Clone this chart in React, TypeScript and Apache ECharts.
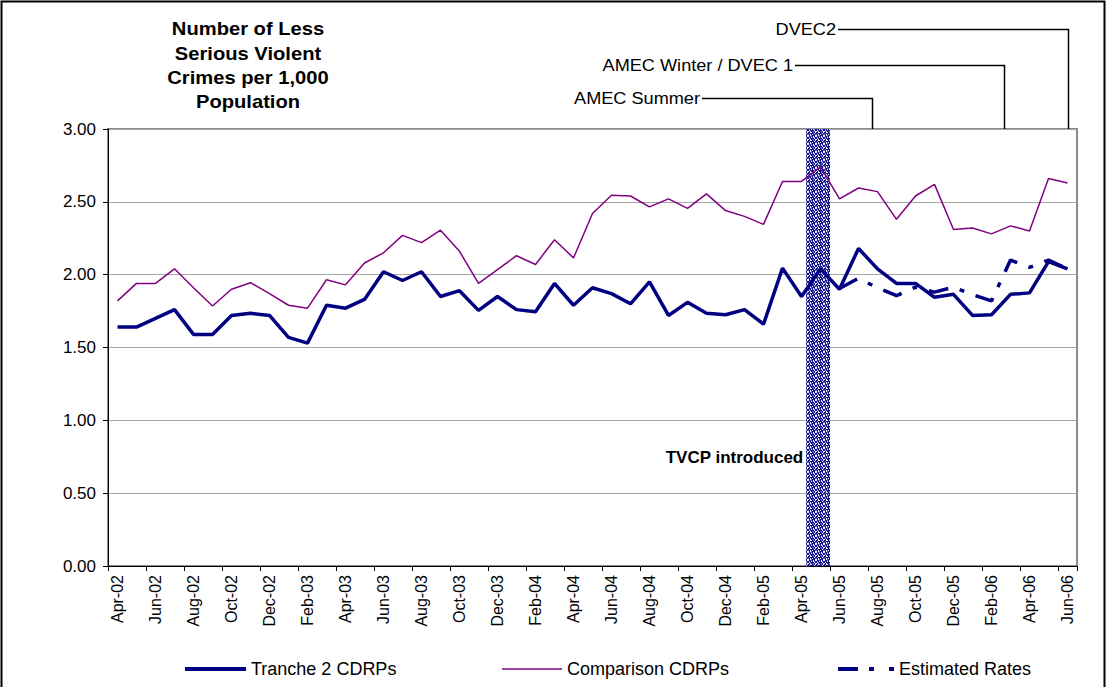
import React, { useEffect, useRef } from "react";
import * as echarts from "echarts";

const months = [
  "Apr-02","May-02","Jun-02","Jul-02","Aug-02","Sep-02","Oct-02","Nov-02","Dec-02",
  "Jan-03","Feb-03","Mar-03","Apr-03","May-03","Jun-03","Jul-03","Aug-03","Sep-03","Oct-03","Nov-03","Dec-03",
  "Jan-04","Feb-04","Mar-04","Apr-04","May-04","Jun-04","Jul-04","Aug-04","Sep-04","Oct-04","Nov-04","Dec-04",
  "Jan-05","Feb-05","Mar-05","Apr-05","May-05","Jun-05","Jul-05","Aug-05","Sep-05","Oct-05","Nov-05","Dec-05",
  "Jan-06","Feb-06","Mar-06","Apr-06","May-06","Jun-06",
];

const tranche2 = [
  1.64, 1.64, 1.70, 1.76, 1.59, 1.59, 1.72, 1.735, 1.72,
  1.57, 1.53, 1.79, 1.77, 1.83, 2.02, 1.96, 2.02, 1.85, 1.89, 1.755, 1.85,
  1.76, 1.745, 1.94, 1.79, 1.91, 1.87, 1.80, 1.95, 1.72, 1.81, 1.735, 1.725,
  1.76, 1.66, 2.045, 1.85, 2.04, 1.90, 2.18, 2.04, 1.94, 1.94, 1.845, 1.865,
  1.72, 1.725, 1.865, 1.875, 2.09, 2.04,
];

const comparison = [
  1.82, 1.94, 1.94, 2.04, 1.91, 1.785, 1.90, 1.945, 1.87,
  1.79, 1.77, 1.965, 1.93, 2.08, 2.15, 2.27, 2.22, 2.305, 2.16, 1.94, 2.035,
  2.13, 2.07, 2.24, 2.115, 2.42, 2.545, 2.54, 2.465, 2.52, 2.455, 2.555, 2.44,
  2.40, 2.345, 2.64, 2.64, 2.74, 2.52, 2.595, 2.57, 2.38, 2.54, 2.62, 2.31,
  2.32, 2.28, 2.335, 2.30, 2.66, 2.63,
];

const estimated = [
  null, null, null, null, null, null, null, null, null,
  null, null, null, null, null, null, null, null, null, null, null, null,
  null, null, null, null, null, null, null, null, null, null, null, null,
  null, null, null, null, null, 1.905, 1.975, 1.91, 1.856, 1.914, 1.88, 1.914,
  1.863, 1.82, 2.10, 2.05, 2.10, 2.04,
];

const yTicks = [0, 0.5, 1, 1.5, 2, 2.5, 3];
const bandMonth = "May-05";
const bandLabel = "TVCP introduced";
const titleLines = ["Number of Less", "Serious Violent", "Crimes per 1,000", "Population"];
const annotationLabels = ["DVEC2", "AMEC Winter / DVEC 1", "AMEC Summer"];
const annotationMonths = ["Jun-06", "Feb-06", "Aug-05"];
const annotationShift = [0, 0.65, -0.28];

const FONT = "'Liberation Sans', Arial, sans-serif";
const NAVY = "#000080";
const PURPLE = "#800080";

function makeSpeckle() {
  const c = document.createElement("canvas");
  c.width = 8;
  c.height = 8;
  const ctx = c.getContext("2d");
  if (!ctx) return null;
  ctx.fillStyle = "#14148a";
  ctx.fillRect(0, 0, 8, 8);
  for (let y = 0; y < 8; y++) {
    for (let x = 0; x < 8; x++) {
      const k = (x * 3 + y * 5 + ((x * y) % 3)) % 7;
      if (k < 2) {
        ctx.fillStyle = "#e8e8ff";
        ctx.fillRect(x, y, 1, 1);
      } else if (k === 2) {
        ctx.fillStyle = "#7070c8";
        ctx.fillRect(x, y, 1, 1);
      }
    }
  }
  return c;
}

const legendText = { fontSize: 18, color: "#000", fontFamily: FONT };

export default function App() {
  const ref = useRef<HTMLDivElement | null>(null);

  useEffect(() => {
    if (!ref.current) return;
    const chart = echarts.init(ref.current, null, { renderer: "svg" });
    const speckle = makeSpeckle();

    const option: any = {
      animation: false,
      backgroundColor: "#ffffff",
      textStyle: { fontFamily: FONT },
      grid: {
        left: 108,
        right: 30,
        top: 129,
        bottom: 121,
        show: true,
        borderColor: "#8c8c8c",
        borderWidth: 2,
        containLabel: false,
      },
      legend: [
        {
          data: [{ name: "Tranche 2 CDRPs", icon: "rect" }],
          left: 180,
          top: 655,
          itemWidth: 61,
          itemHeight: 4,
          selectedMode: false,
          itemStyle: { color: NAVY, borderWidth: 0 },
          textStyle: legendText,
        },
        {
          data: [{ name: "Comparison CDRPs", icon: "rect" }],
          left: 497,
          top: 655,
          itemWidth: 60,
          itemHeight: 2,
          selectedMode: false,
          itemStyle: { color: "#a040a8", borderWidth: 0 },
          textStyle: legendText,
        },
        {
          data: [
            {
              name: "Estimated Rates",
              icon: "path://M0,0H20V4H0Z M31,0H36V4H31Z M51,0H56V4H51Z",
            },
          ],
          left: 833,
          top: 655,
          itemWidth: 56,
          itemHeight: 4,
          selectedMode: false,
          itemStyle: { color: NAVY, borderWidth: 0 },
          textStyle: legendText,
        },
      ],
      xAxis: {
        type: "category",
        data: months,
        boundaryGap: true,
        axisLine: { show: true, lineStyle: { color: "#000", width: 1 } },
        axisTick: { show: true, interval: 1, length: 5, lineStyle: { color: "#000" } },
        axisLabel: {
          interval: 1,
          rotate: 90,
          fontSize: 16,
          color: "#000",
          margin: 9,
          fontFamily: FONT,
        },
        splitLine: { show: false },
      },
      yAxis: {
        type: "value",
        min: yTicks[0],
        max: yTicks[yTicks.length - 1],
        interval: yTicks[1] - yTicks[0],
        axisLine: { show: true, lineStyle: { color: "#000", width: 1 } },
        axisTick: { show: true, length: 5, lineStyle: { color: "#000" } },
        axisLabel: {
          fontSize: 17,
          color: "#000",
          margin: 12,
          fontFamily: FONT,
          formatter: (v: number) => v.toFixed(2),
        },
        splitLine: { show: true, lineStyle: { color: "#a6a6a6", width: 1 } },
      },
      series: [
        {
          type: "custom",
          name: "band",
          silent: true,
          z: 1,
          data: [[bandMonth, yTicks[0], yTicks[yTicks.length - 1]]],
          encode: { x: 0, y: [1, 2] },
          renderItem: (params: any, api: any) => {
            const bottom = api.coord([api.value(0), api.value(1)]);
            const top = api.coord([api.value(0), api.value(2)]);
            const w = api.size([1, 0])[0];
            const x0 = bottom[0] - 0.75 * w;
            const width = 1.25 * w;
            const children: any[] = [
              {
                type: "rect",
                shape: { x: x0, y: top[1], width, height: bottom[1] - top[1] },
                style: { fill: "#4848a8" },
              },
            ];
            if (speckle) {
              children.push({
                type: "rect",
                shape: { x: x0, y: top[1], width, height: bottom[1] - top[1] },
                style: {
                  fill: { image: speckle, repeat: "repeat", imageWidth: 8, imageHeight: 8 },
                },
              });
            }
            return { type: "group", children };
          },
        },
        {
          type: "line",
          name: "Tranche 2 CDRPs",
          data: tranche2,
          symbol: "none",
          showSymbol: false,
          z: 4,
          lineStyle: { color: NAVY, width: 3.5 },
          itemStyle: { color: NAVY },
        },
        {
          type: "line",
          name: "Comparison CDRPs",
          data: comparison,
          symbol: "none",
          showSymbol: false,
          z: 3,
          lineStyle: { color: PURPLE, width: 1.5 },
          itemStyle: { color: PURPLE },
        },
        {
          type: "line",
          name: "Estimated Rates",
          data: estimated,
          symbol: "none",
          showSymbol: false,
          connectNulls: false,
          z: 5,
          lineStyle: { color: NAVY, width: 3.5, type: [20, 12, 5, 12], cap: "butt" },
          itemStyle: { color: NAVY },
        },
      ],
    };

    chart.setOption(option);

    const gridTop = 129;
    const levelsY = [29, 65, 98];
    const lineStartX = [838, 795, 702];
    const graphics: any[] = [];

    graphics.push({
      type: "rect",
      silent: true,
      shape: { x: 1.5, y: 1.5, width: 1103, height: 700 },
      style: { fill: null, stroke: "#000", lineWidth: 2 },
      z: 100,
    });

    graphics.push({
      type: "text",
      x: 248,
      y: 17,
      scaleX: 1.12,
      silent: true,
      style: {
        text: titleLines.join("\n"),
        fontFamily: FONT,
        fontSize: 18,
        fontWeight: "bold",
        fill: "#000",
        align: "center",
        verticalAlign: "top",
        lineHeight: 24.3,
      },
      z: 100,
    });

    const bandIdx = months.indexOf(bandMonth);
    const bandPx = chart.convertToPixel({ xAxisIndex: 0 }, months[bandIdx]) as number;
    const step =
      (chart.convertToPixel({ xAxisIndex: 0 }, months[1]) as number) -
      (chart.convertToPixel({ xAxisIndex: 0 }, months[0]) as number);
    const yMid = chart.convertToPixel({ yAxisIndex: 0 }, 0.75) as number;

    graphics.push({
      type: "text",
      x: bandPx - 0.75 * step - 3,
      y: yMid + 1,
      silent: true,
      style: {
        text: bandLabel,
        fontFamily: FONT,
        fontSize: 17,
        fontWeight: "bold",
        fill: "#000",
        align: "right",
        verticalAlign: "middle",
      },
      z: 100,
    });

    annotationLabels.forEach((label, i) => {
      const base = chart.convertToPixel({ xAxisIndex: 0 }, annotationMonths[i]) as number;
      const vx = Math.round(base + annotationShift[i] * step) + 0.5;
      const ly = levelsY[i] + 0.5;
      graphics.push({
        type: "polyline",
        silent: true,
        shape: {
          points: [
            [lineStartX[i], ly],
            [vx, ly],
            [vx, gridTop],
          ],
        },
        style: { stroke: "#000", lineWidth: 1.5, fill: null },
        z: 100,
      });
      graphics.push({
        type: "text",
        x: lineStartX[i] - 2,
        y: ly,
        scaleX: 1.1,
        silent: true,
        style: {
          text: label,
          fontFamily: FONT,
          fontSize: 16.5,
          fill: "#000",
          align: "right",
          verticalAlign: "middle",
        },
        z: 100,
      });
    });

    chart.setOption({ graphic: graphics });

    return () => {
      chart.dispose();
    };
  }, []);

  return (
    <div
      ref={ref}
      style={{ position: "fixed", left: 0, top: 0, width: 1107, height: 687, background: "#fff" }}
    />
  );
}
